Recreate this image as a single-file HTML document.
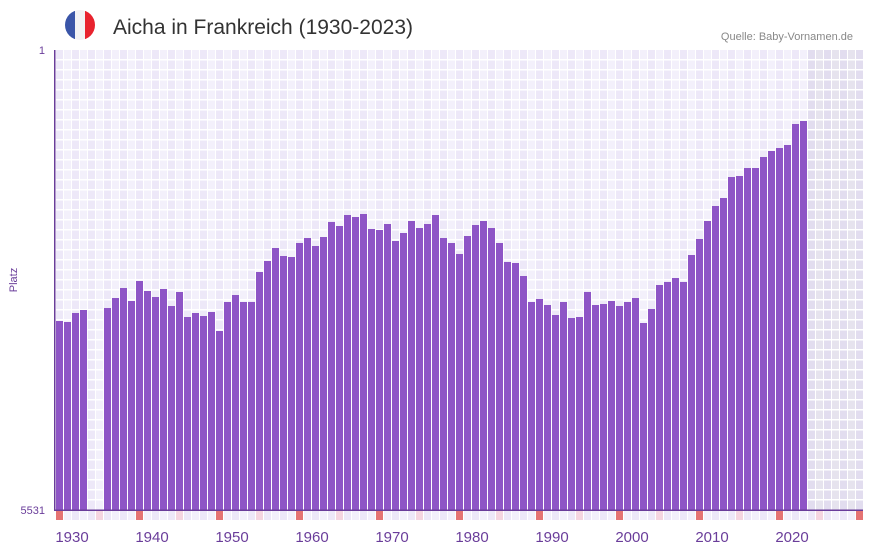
<!DOCTYPE html>
<html><head><meta charset="utf-8"><style>
body{margin:0;background:#fff;width:873px;height:552px;overflow:hidden;font-family:"Liberation Sans",sans-serif}
</style></head><body>
<svg id="s" width="873" height="552" xmlns="http://www.w3.org/2000/svg">
<defs><clipPath id="c"><circle cx="80" cy="25" r="15"/></clipPath></defs>
<g clip-path="url(#c)"><rect x="65" y="10" width="10" height="30" fill="#3a55a8"/><rect x="75" y="10" width="10" height="30" fill="#f2f2f4"/><rect x="85" y="10" width="10" height="30" fill="#e8232e"/></g>
<text x="113" y="34" font-size="21" fill="#333">Aicha in Frankreich (1930-2023)</text>
<text x="853" y="40" font-size="11" fill="#888" text-anchor="end">Quelle: Baby-Vornamen.de</text>
<text x="45" y="54" font-size="11" fill="#6a3d9a" text-anchor="end">1</text>
<text x="45" y="514" font-size="11" fill="#6a3d9a" text-anchor="end">5531</text>
<text transform="translate(17,280) rotate(-90)" font-size="11" fill="#6a3d9a" text-anchor="middle">Platz</text>
<g id="g"></g>
</svg>
<script>
var tops={1930:321,1931:322,1932:313,1933:310,1936:308,1937:298,1938:288,1939:301,1940:281,1941:291,1942:297,1943:289,1944:306,1945:292,1946:317,1947:313,1948:316,1949:312,1950:331,1951:302,1952:295,1953:302,1954:302,1955:272,1956:261,1957:248,1958:256,1959:257,1960:243,1961:238,1962:246,1963:237,1964:222,1965:226,1966:215,1967:217,1968:214,1969:229,1970:230,1971:224,1972:241,1973:233,1974:221,1975:228,1976:224,1977:215,1978:238,1979:243,1980:254,1981:236,1982:225,1983:221,1984:228,1985:243,1986:262,1987:263,1988:276,1989:302,1990:299,1991:305,1992:315,1993:302,1994:318,1995:317,1996:292,1997:305,1998:304,1999:301,2000:306,2001:302,2002:298,2003:323,2004:309,2005:285,2006:282,2007:278,2008:282,2009:255,2010:239,2011:221,2012:206,2013:198,2014:177,2015:176,2016:168,2017:168,2018:157,2019:151,2020:148,2021:145,2022:124,2023:121};
var h='';
for(var i=0;i<101;i++){var y=1930+i,x=55+8*i;var gray=y>=2024;
var c=gray?(i%2?'#e6e3ee':'#e2ddef'):(i%2?'#f3f0fb':'#ede8f8');
h+='<rect x="'+(x+1)+'" y="50" width="7" height="460" fill="'+c+'"/>';
var sc=(y%10==0)?'#e57373':(y%10==5)?'#f5d5e0':(i%2?'#f3f0fb':'#ede8f8');
h+='<rect x="'+(x+1)+'" y="511" width="7" height="9" fill="'+sc+'"/>';}
for(var yy=60;yy<510;yy+=10)h+='<rect x="55" y="'+(yy-1)+'" width="808" height="1.5" fill="#fff"/>';
for(var y in tops){var i=y-1930,x=55+8*i;h+='<rect x="'+(x+1)+'" y="'+tops[y]+'" width="7" height="'+(510-tops[y])+'" fill="#8e55c6"/>';}
h+='<rect x="54" y="50" width="1.5" height="461" fill="#6a3d9a"/><rect x="54" y="509.5" width="809" height="1.5" fill="#6a3d9a"/>';
for(var d=0;d<10;d++){var y=1930+d*10;h+='<text x="'+(72+80*d)+'" y="542" font-size="15" fill="#6a3d9a" text-anchor="middle">'+y+'</text>';}
document.getElementById('g').innerHTML=h;
</script>
</body></html>
